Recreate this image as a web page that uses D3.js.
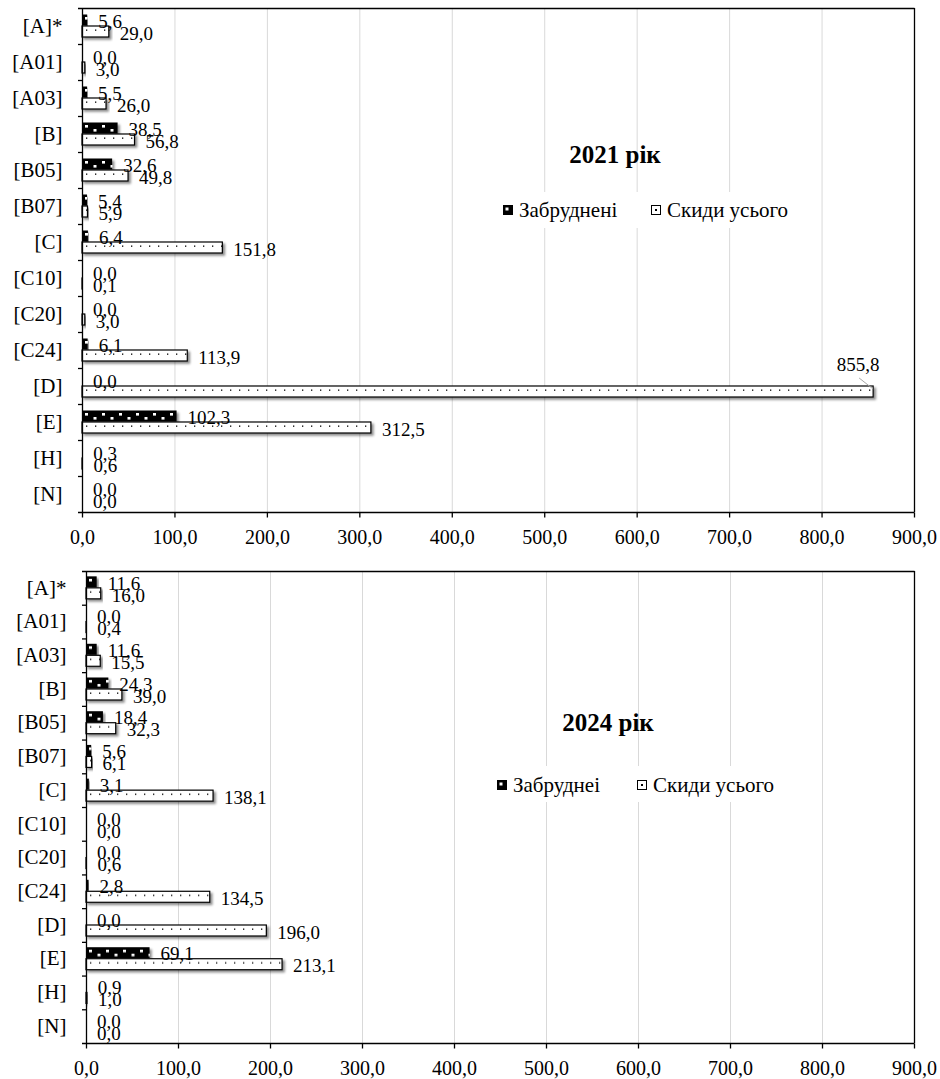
<!DOCTYPE html>
<html>
<head>
<meta charset="utf-8">
<script src="https://cdn.jsdelivr.net/npm/d3@7"></script>
<style>
  html, body { margin: 0; padding: 0; background: #fff; }
  svg { display: block; font-family: "Liberation Serif", "Times New Roman", serif; }
</style>
</head>
<body>
<svg id="chart" width="940" height="1079"></svg>
<script>
// Categories (economic activity codes)
const categories = ["[A]*", "[A01]", "[A03]", "[B]", "[B05]", "[B07]", "[C]", "[C10]", "[C20]", "[C24]", "[D]", "[E]", "[H]", "[N]"];

// 2021: polluted discharges and total discharges
const polluted2021 = [5.6, 0.0, 5.5, 38.5, 32.6, 5.4, 6.4, 0.0, 0.0, 6.1, 0.0, 102.3, 0.3, 0.0];
const total2021    = [29.0, 3.0, 26.0, 56.8, 49.8, 5.9, 151.8, 0.1, 3.0, 113.9, 855.8, 312.5, 0.6, 0.0];

// 2024: polluted discharges and total discharges
const polluted2024 = [11.6, 0.0, 11.6, 24.3, 18.4, 5.6, 3.1, 0.0, 0.0, 2.8, 0.0, 69.1, 0.9, 0.0];
const total2024    = [16.0, 0.4, 15.5, 39.0, 32.3, 6.1, 138.1, 0.0, 0.6, 134.5, 196.0, 213.1, 1.0, 0.0];

// Axis ticks
const xTicks = [0, 100, 200, 300, 400, 500, 600, 700, 800, 900];

// Text
const titles = ["2021 рік", "2024 рік"];
const legendPolluted = ["Забруднені", "Забруднеі"];
const legendTotal = "Скиди усього";

const svg = d3.select("#chart");
const defs = svg.append("defs");
const fmt = v => d3.format(".1f")(v).replace(".", ",");

// soft drop shadow under bars
const shadow = defs.append("filter").attr("id", "shadow")
  .attr("x", "-5%").attr("y", "-30%").attr("width", "120%").attr("height", "180%");
shadow.append("feDropShadow")
  .attr("dx", 2.2).attr("dy", 2.2).attr("stdDeviation", 1.1)
  .attr("flood-color", "#000").attr("flood-opacity", 0.45);

const panels = [
  { id: "p2021", polluted: polluted2021, total: total2021, title: titles[0], legend: legendPolluted[0],
    left: 82, right: 914, top: 8, bottom: 512,
    titleX: 615, titleY: 163,
    legBox: [492, 192, 306, 36], legY: 210, legBlackX: 503, legWhiteX: 651, legTextGap: 6 },
  { id: "p2024", polluted: polluted2024, total: total2024, title: titles[1], legend: legendPolluted[1],
    left: 86, right: 914, top: 571, bottom: 1043,
    titleX: 608, titleY: 731,
    legBox: [486, 766, 312, 36], legY: 785, legBlackX: 497, legWhiteX: 637, legTextGap: 6 }
];

const barH = 11;

panels.forEach(p => {
  const x = d3.scaleLinear().domain([0, 900]).range([p.left, p.right]);
  const y = d3.scaleBand().domain(categories).range([p.top, p.bottom]).padding(0);
  const step = y.step();
  const blackOff = step / 2 - 11.5;   // top of polluted bar inside a band
  const whiteOff = step / 2;          // top of total bar inside a band

  // fill patterns aligned to each band
  const pb = defs.append("pattern").attr("id", p.id + "-black")
    .attr("patternUnits", "userSpaceOnUse")
    .attr("x", p.left).attr("y", p.top).attr("width", 17).attr("height", step);
  pb.append("rect").attr("width", 17).attr("height", step).attr("fill", "#000");
  pb.append("rect").attr("x", 3).attr("y", blackOff + 2.5).attr("width", 3).attr("height", 2.6).attr("fill", "#fff");
  pb.append("rect").attr("x", 11.5).attr("y", blackOff + 6.5).attr("width", 3).attr("height", 2.6).attr("fill", "#fff");

  const pw = defs.append("pattern").attr("id", p.id + "-white")
    .attr("patternUnits", "userSpaceOnUse")
    .attr("x", p.left).attr("y", p.top).attr("width", 9).attr("height", step);
  pw.append("rect").attr("width", 9).attr("height", step).attr("fill", "#fff");
  pw.append("rect").attr("x", 4).attr("y", whiteOff + 3.5).attr("width", 1.3).attr("height", 1.3).attr("fill", "#000");

  const g = svg.append("g");

  // vertical gridlines
  g.append("g").selectAll("line").data(xTicks.filter(t => t > 0 && t < 900)).join("line")
    .attr("x1", d => x(d) + 0.5).attr("x2", d => x(d) + 0.5)
    .attr("y1", p.top).attr("y2", p.bottom)
    .attr("stroke", "#d9d9d9").attr("stroke-width", 1);

  // plot frame: top and right edges
  g.append("line").attr("x1", p.left - 4).attr("x2", p.right + 0.5)
    .attr("y1", p.top + 0.5).attr("y2", p.top + 0.5).attr("stroke", "#000").attr("stroke-width", 1.3);
  g.append("line").attr("x1", p.right + 0.5).attr("x2", p.right + 0.5)
    .attr("y1", p.top).attr("y2", p.bottom).attr("stroke", "#000").attr("stroke-width", 1.3);

  // title
  g.append("text").attr("x", p.titleX).attr("y", p.titleY)
    .attr("text-anchor", "middle").attr("font-size", 25).attr("font-weight", "bold")
    .text(p.title);

  // legend with white background
  g.append("rect").attr("x", p.legBox[0]).attr("y", p.legBox[1])
    .attr("width", p.legBox[2]).attr("height", p.legBox[3]).attr("fill", "#fff");
  const lb = g.append("g").attr("transform", `translate(${p.legBlackX},${p.legY - 5})`);
  lb.append("rect").attr("width", 10).attr("height", 10).attr("fill", "#000");
  lb.append("rect").attr("x", 2.5).attr("y", 2.5).attr("width", 3).attr("height", 3).attr("fill", "#fff");
  g.append("text").attr("x", p.legBlackX + 10 + p.legTextGap).attr("y", p.legY + 7)
    .attr("font-size", 21).text(p.legend);
  const lw = g.append("g").attr("transform", `translate(${p.legWhiteX},${p.legY - 5})`);
  lw.append("rect").attr("x", 0.5).attr("y", 0.5).attr("width", 9).attr("height", 9)
    .attr("fill", "#fff").attr("stroke", "#000").attr("stroke-width", 1);
  lw.append("rect").attr("x", 4).attr("y", 4).attr("width", 2).attr("height", 2).attr("fill", "#000");
  g.append("text").attr("x", p.legWhiteX + 10 + p.legTextGap).attr("y", p.legY + 7)
    .attr("font-size", 21).text(legendTotal);

  const rows = categories.map((c, i) => ({ c, polluted: p.polluted[i], total: p.total[i] }));

  // polluted discharges bars
  g.append("g").selectAll("rect").data(rows.filter(d => d.polluted > 0)).join("rect")
    .attr("x", x(0)).attr("y", d => y(d.c) + blackOff)
    .attr("width", d => x(d.polluted) - x(0)).attr("height", barH)
    .attr("fill", `url(#${p.id}-black)`)
    .attr("filter", "url(#shadow)");

  // total discharges bars
  g.append("g").selectAll("rect").data(rows.filter(d => d.total > 0)).join("rect")
    .attr("x", x(0)).attr("y", d => y(d.c) + whiteOff)
    .attr("width", d => Math.max(0, x(d.total) - x(0))).attr("height", barH)
    .attr("fill", `url(#${p.id}-white)`)
    .attr("stroke", "#000").attr("stroke-width", 1.2)
    .attr("filter", "url(#shadow)");

  // value labels
  const maxFit = x.invert(p.right - 60);
  g.append("g").selectAll("text").data(rows).join("text")
    .attr("x", d => x(d.polluted) + 11)
    .attr("y", d => y(d.c) + blackOff + barH / 2 + 1)
    .attr("dy", "0.35em").attr("font-size", 19)
    .text(d => fmt(d.polluted));

  const tl = g.append("g").selectAll("g").data(rows).join("g");
  tl.append("text")
    .attr("x", d => d.total > maxFit ? x(d.total) - 15 : x(d.total) + 11)
    .attr("y", d => d.total > maxFit ? y(d.c) + step / 2 - 22 : y(d.c) + whiteOff + barH / 2 + 1.5)
    .attr("text-anchor", d => d.total > maxFit ? "middle" : "start")
    .attr("dy", "0.35em").attr("font-size", 19)
    .text(d => fmt(d.total));
  // leader line for labels moved above the bar
  tl.filter(d => d.total > maxFit).append("line")
    .attr("x1", d => x(d.total) - 14).attr("y1", d => y(d.c) + step / 2 - 8)
    .attr("x2", d => x(d.total)).attr("y2", d => y(d.c) + step / 2 + 3)
    .attr("stroke", "#a6a6a6").attr("stroke-width", 1);

  // x axis
  const xAxis = d3.axisBottom(x).tickValues(xTicks).tickFormat(fmt)
    .tickSize(5).tickSizeOuter(0).tickPadding(12);
  const ax = g.append("g").attr("transform", `translate(0,${p.bottom + 0.5})`).call(xAxis);
  ax.select(".domain").attr("stroke", "#000").attr("stroke-width", 1.3).attr("d", `M${p.left - 4},0H${p.right + 0.5}`);
  ax.selectAll(".tick line").attr("stroke", "#000").attr("stroke-width", 1.3);
  ax.selectAll(".tick text").attr("font-size", 20).attr("font-family", "Liberation Serif").attr("fill", "#000");

  // y axis: labels centred on bands, ticks on band boundaries
  const yAxis = d3.axisLeft(y).tickSize(0).tickPadding(20);
  const ay = g.append("g").attr("transform", `translate(${p.left + 0.5},0)`).call(yAxis);
  ay.select(".domain").attr("stroke", "#000").attr("stroke-width", 1.3).attr("d", `M0,${p.top}V${p.bottom}`);
  ay.selectAll(".tick text").attr("font-size", 21).attr("font-family", "Liberation Serif").attr("fill", "#000");
  g.append("g").selectAll("line").data(categories.slice(1)).join("line")
    .attr("x1", p.left - 4).attr("x2", p.left)
    .attr("y1", d => y(d) + 0.5).attr("y2", d => y(d) + 0.5)
    .attr("stroke", "#000").attr("stroke-width", 1.3);
});
</script>
</body>
</html>
